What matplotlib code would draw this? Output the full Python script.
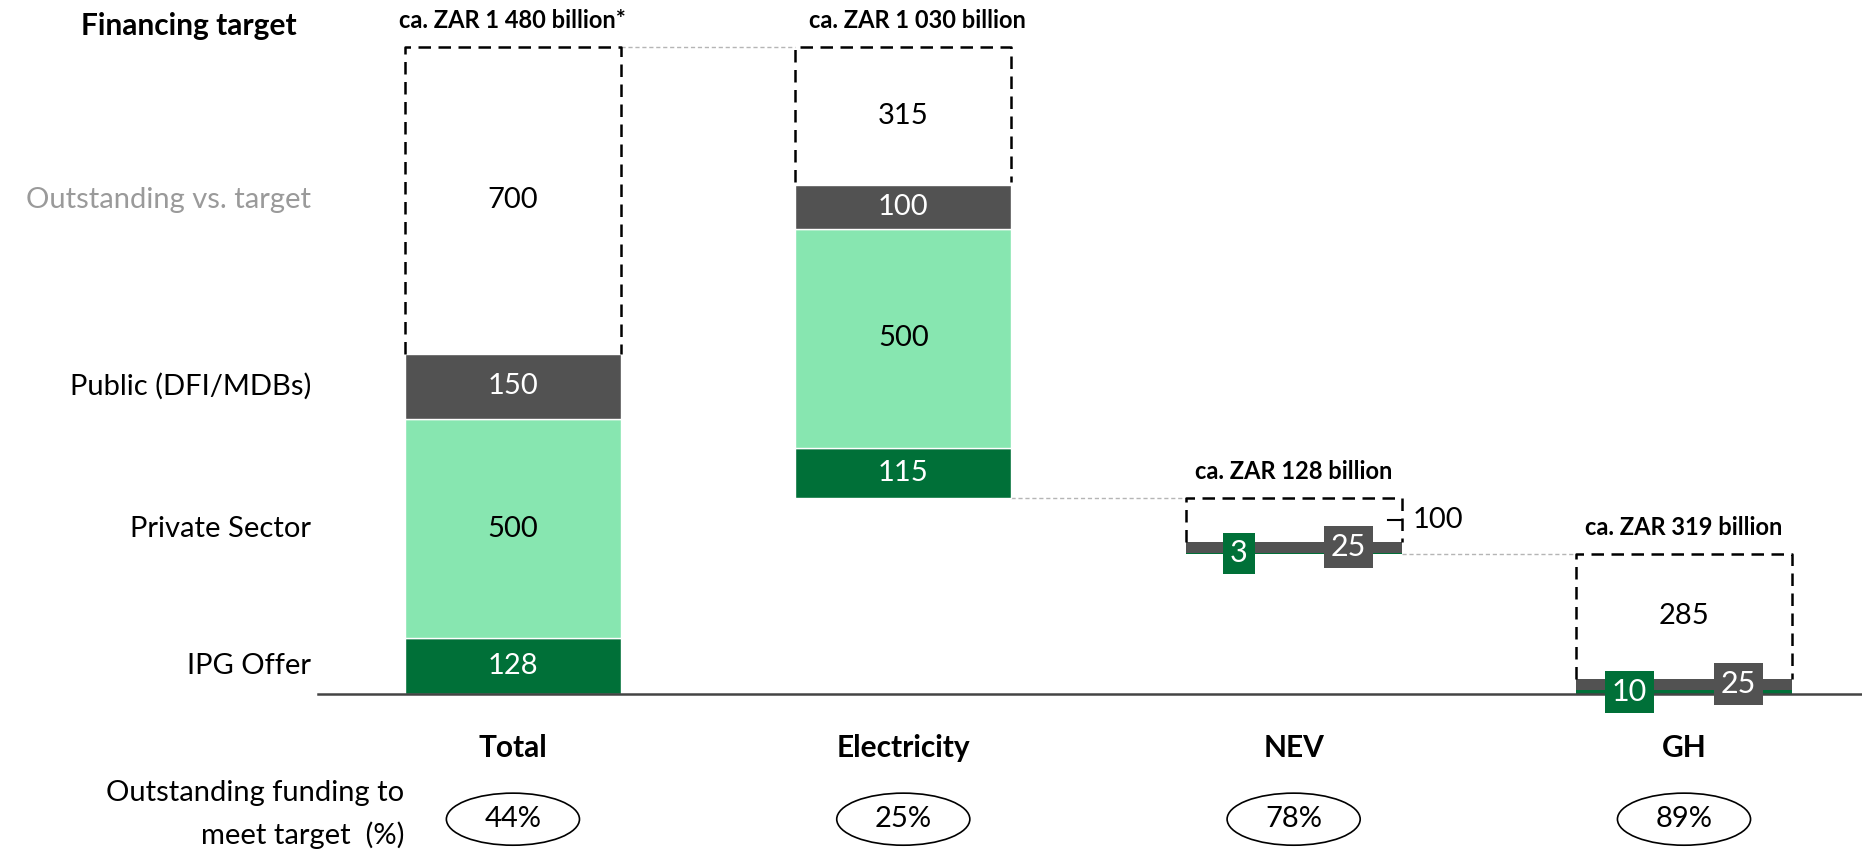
import matplotlib.pyplot as plt
from matplotlib.patches import Ellipse

plt.rcParams['font.family'] = ['Lato', 'DejaVu Sans']

categories = ['Total', 'Electricity', 'NEV', 'GH']
target_labels = ['ca. ZAR 1 480 billion*', 'ca. ZAR 1 030 billion',
                 'ca. ZAR 128 billion', 'ca. ZAR 319 billion']
ipg = [128, 115, 3, 10]
private = [500, 500, 0, 0]
public = [150, 100, 25, 25]
outstanding = [700, 315, 100, 285]
pct_outstanding = ['44%', '25%', '78%', '89%']
row_labels = ['Outstanding vs. target', 'Public (DFI/MDBs)', 'Private Sector', 'IPG Offer']

c_ipg = '#007038'
c_priv = '#87E6B0'
c_pub = '#525252'

fig = plt.figure(figsize=(18.62, 8.52), dpi=100)
ax = fig.add_axes([0, 0, 1, 1])
ax.set_xlim(-1.314, 3.456)
ax.set_ylim(-361, 1586)
ax.axis('off')

w = 0.553
fs = 21
fsb = 21.5

# waterfall bases
totals = [a + b + c + d for a, b, c, d in zip(ipg, private, public, outstanding)]
bases = [0]
top = totals[0]
for t in totals[1:]:
    bases.append(top - t)
    top = top - t

for i, cat in enumerate(categories):
    b0 = bases[i]
    segs = [(ipg[i], c_ipg), (private[i], c_priv), (public[i], c_pub)]
    y = b0
    small = i >= 2
    for k, (v, col) in enumerate(segs):
        if v > 0:
            ax.bar(i, v, w, bottom=y, color=col, edgecolor='white', linewidth=1 if not small else 0)
            if not small:
                tc = 'black' if col == c_priv else 'white'
                ax.text(i, y + v / 2, str(v), ha='center', va='center', fontsize=fs, color=tc)
            else:
                dx = -0.14 if col == c_ipg else 0.14
                ax.text(i + dx, y + v / 2, str(v), ha='center', va='center', fontsize=fs + 1,
                        color='white', zorder=5,
                        bbox=dict(boxstyle='square,pad=0.22', fc=col, ec='none'))
        y += v
    # dashed outstanding box (three sides)
    y0 = y + (8 if i == 1 else 0)
    y1 = y + outstanding[i]
    ax.plot([i - w / 2, i - w / 2, i + w / 2, i + w / 2], [y0, y1, y1, y0],
            color='black', lw=1.8, linestyle=(0, (5, 3)), solid_joinstyle='miter')
    if i == 2:
        ym = y + outstanding[i] / 2
        ax.plot([i + w / 2 - 0.035, i + w / 2], [ym, ym], color='black', lw=1.5)
        ax.text(i + w / 2 + 0.028, ym, str(outstanding[i]), ha='left', va='center', fontsize=fs)
    else:
        ax.text(i, y + outstanding[i] / 2, str(outstanding[i]), ha='center', va='center', fontsize=fs)
    # target label
    ax.annotate(target_labels[i], (i + (0.035 if i == 1 else 0), y1), xytext=(0, 19),
                textcoords='offset points', ha='center', va='center',
                fontsize=17, fontweight='bold')
    # connector
    if i < len(categories) - 1:
        ax.plot([i + w / 2, i + 1 - w / 2], [b0, b0] if i > 0 else [y1, y1],
                color='#b5b5b5', lw=1, linestyle=(0, (3, 2)), zorder=0)

# baseline
ax.plot([-0.5, 3.456], [0, 0], color='#444444', lw=1.8, zorder=3)

# left labels aligned to the total bar segments
seg_mid = [ipg[0] + private[0] + public[0] + outstanding[0] / 2,
           ipg[0] + private[0] + public[0] / 2,
           ipg[0] + private[0] / 2,
           ipg[0] / 2]
for lab, ym in zip(row_labels, seg_mid):
    ax.text(-0.5175, ym, lab, ha='right', va='center', fontsize=fs,
            color='#9a9a9a' if lab.startswith('Outstanding') else 'black')
ax.text(-1.107, 1527, 'Financing target', ha='left', va='center', fontsize=fsb, fontweight='bold')

# bottom: categories and outstanding funding ellipses
for i, cat in enumerate(categories):
    ax.text(i, -123, cat, ha='center', va='center', fontsize=fsb, fontweight='bold')
    ax.add_patch(Ellipse((i, -286), 0.341, 119, fc='none', ec='black', lw=1.2))
    ax.text(i, -286, pct_outstanding[i], ha='center', va='center', fontsize=fs)
ax.text(-0.279, -226, 'Outstanding funding to', ha='right', va='center', fontsize=fs)
ax.text(-0.279, -322, 'meet target  (%)', ha='right', va='center', fontsize=fs)

fig.savefig('out.png', dpi=100)
